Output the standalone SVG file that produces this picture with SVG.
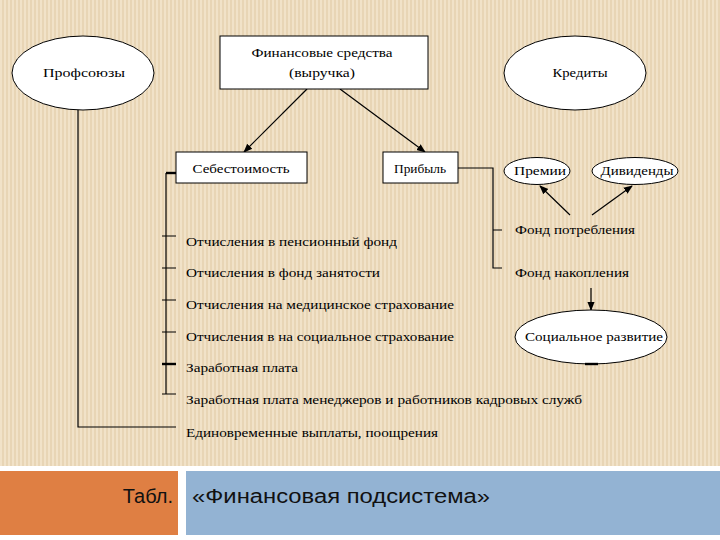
<svg xmlns="http://www.w3.org/2000/svg" width="720" height="540" viewBox="0 0 720 540">
<defs>
<pattern id="stripes" width="4" height="10" patternUnits="userSpaceOnUse">
<rect width="4" height="10" fill="#F1E2C8"/>
<rect x="2" width="2" height="10" fill="#E8D5B5"/>
</pattern>
<marker id="ah" viewBox="0 0 10 10" refX="9" refY="5" markerWidth="9" markerHeight="9" orient="auto" markerUnits="userSpaceOnUse">
<path d="M0,1 L10,5 L0,9 z" fill="#000"/>
</marker>
</defs>
<style>
.t{font-family:"Liberation Serif","Times New Roman",serif;font-size:13px;fill:#000}
.box{fill:#fff;stroke:#000;stroke-width:1}
.ell{fill:#fff;stroke:#000;stroke-width:1}
.ln{stroke:#000;stroke-width:1.2;fill:none}
.thick{stroke:#000;stroke-width:2.4;fill:none}
.cap{font-family:"Liberation Sans","Open Sans",Arial,sans-serif;font-size:20px;fill:#111}
</style>
<rect width="720" height="540" fill="#fff"/>
<rect x="0" y="0" width="720" height="466" fill="url(#stripes)"/>

<g id="connectors">
<path class="ln" d="M78,110 V427 H176"/>
<path class="ln" d="M166,173 V394"/>
<path class="thick" d="M166,173 H176"/>
<path class="ln" d="M162,236 H176 M162,268 H176 M162,300 H176 M162,332 H176 M162,394 H176"/>
<path class="thick" d="M162,364 H176"/>
<path class="ln" d="M458,168 H493 V268 H502 M493,230 H502"/>
<line class="ln" x1="307" y1="89" x2="244" y2="152" marker-end="url(#ah)"/>
<line class="ln" x1="340" y1="89" x2="425" y2="152" marker-end="url(#ah)"/>
<line class="ln" x1="570" y1="215" x2="540" y2="186" marker-end="url(#ah)"/>
<line class="ln" x1="592" y1="215" x2="632" y2="186" marker-end="url(#ah)"/>
<line class="ln" x1="591" y1="288" x2="591" y2="310" marker-end="url(#ah)"/>
</g>

<g id="profsoyuzy">
<ellipse class="ell" cx="83" cy="73" rx="71" ry="37"/>
<text class="t" x="84" y="76.5" text-anchor="middle" textLength="82" lengthAdjust="spacingAndGlyphs">Профсоюзы</text>
</g>
<g id="finansy">
<rect class="box" x="220" y="36" width="208" height="53"/>
<text class="t" x="322" y="56.5" text-anchor="middle" textLength="141" lengthAdjust="spacingAndGlyphs">Финансовые средства</text>
<text class="t" x="322" y="76.5" text-anchor="middle" textLength="66" lengthAdjust="spacingAndGlyphs">(выручка)</text>
</g>
<g id="kredity">
<ellipse class="ell" cx="575" cy="73" rx="71" ry="37"/>
<text class="t" x="580" y="77" text-anchor="middle" textLength="55" lengthAdjust="spacingAndGlyphs">Кредиты</text>
</g>
<g id="sebestoimost">
<rect class="box" x="176" y="152" width="131" height="31"/>
<text class="t" x="241" y="172.5" text-anchor="middle" textLength="97" lengthAdjust="spacingAndGlyphs">Себестоимость</text>
</g>
<g id="pribyl">
<rect class="box" x="383" y="152" width="75" height="31"/>
<text class="t" x="420" y="172.5" text-anchor="middle" textLength="52" lengthAdjust="spacingAndGlyphs">Прибыль</text>
</g>
<g id="premii">
<ellipse class="ell" cx="537" cy="171" rx="33" ry="13.5"/>
<text class="t" x="540" y="174.5" text-anchor="middle" textLength="52" lengthAdjust="spacingAndGlyphs">Премии</text>
</g>
<g id="dividendy">
<ellipse class="ell" cx="635" cy="171" rx="43" ry="13.5"/>
<text class="t" x="637" y="174.5" text-anchor="middle" textLength="73" lengthAdjust="spacingAndGlyphs">Дивиденды</text>
</g>
<g id="fond-potrebleniya">
<text class="t" x="515" y="234" textLength="120" lengthAdjust="spacingAndGlyphs">Фонд потребления</text>
</g>
<g id="fond-nakopleniya">
<text class="t" x="515" y="277" textLength="114" lengthAdjust="spacingAndGlyphs">Фонд накопления</text>
</g>
<g id="socialnoe-razvitie">
<ellipse class="ell" cx="591" cy="337" rx="76" ry="27"/>
<path class="thick" d="M585,364 H598"/>
<text class="t" x="594" y="340.5" text-anchor="middle" textLength="138" lengthAdjust="spacingAndGlyphs">Социальное развитие</text>
</g>
<g id="sebestoimost-items">
<text class="t" x="186" y="245.5" textLength="211" lengthAdjust="spacingAndGlyphs">Отчисления в пенсионный фонд</text>
<text class="t" x="186" y="276.5" textLength="194" lengthAdjust="spacingAndGlyphs">Отчисления в фонд занятости</text>
<text class="t" x="186" y="308.5" textLength="268" lengthAdjust="spacingAndGlyphs">Отчисления на медицинское страхование</text>
<text class="t" x="186" y="340.5" textLength="268" lengthAdjust="spacingAndGlyphs">Отчисления в на социальное страхование</text>
<text class="t" x="186" y="371.5" textLength="112" lengthAdjust="spacingAndGlyphs">Заработная плата</text>
<text class="t" x="186" y="404" textLength="396" lengthAdjust="spacingAndGlyphs">Заработная плата менеджеров и работников кадровых служб</text>
<text class="t" x="186" y="436.5" textLength="252" lengthAdjust="spacingAndGlyphs">Единовременные выплаты, поощрения</text>
</g>

<g id="caption">
<rect x="0" y="471" width="178" height="64" fill="#DF7F43"/>
<rect x="186" y="471" width="534" height="64" fill="#93B3D3"/>
<text class="cap" x="173" y="503" text-anchor="end">Табл.</text>
<text class="cap" x="192" y="503" textLength="298" lengthAdjust="spacingAndGlyphs">«Финансовая подсистема»</text>
</g>
</svg>
